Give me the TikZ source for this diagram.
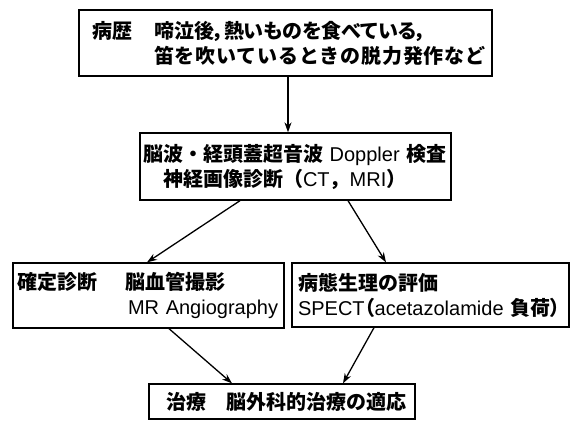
\documentclass[tikz,border=0pt]{standalone}
\usepackage{fontspec}
\setmainfont{Liberation Sans}
\newfontfamily\ja{Noto Sans CJK JP}
\newfontfamily\jap{Noto Sans CJK JP}[RawFeature=+palt]
\usetikzlibrary{arrows.meta}
\begin{document}
\begin{tikzpicture}[x=1pt,y=-1pt,
  box/.style={draw,line width=1.3pt,inner ysep=0pt,align=left,
    font=\fontsize{20}{25}\selectfont\bfseries},
  conn/.style={line width=1.3pt,-{Stealth[length=10pt,width=7pt]}}]
\useasboundingbox (0,0) rectangle (570,421);
\node[box,inner xsep=13pt,text width=387pt,minimum height=66pt] (b1) at (285.5,43)
 {\makebox[62pt][l]{\ja 病歴}{\jap 啼泣後，熱いものを食べている，}\\
  \hspace*{62pt}{\ja\addfontfeature{LetterSpace=4}笛を吹いているときの脱力発作など}};
\node[box,inner xsep=3pt,text width=305pt,minimum height=67pt] (b2) at (295.5,166.5)
 {{\ja 脳波・経頭蓋超音波} {\mdseries Doppler} {\ja 検査}\\
  \hspace*{20pt}{\ja 神経画像診断（}{\mdseries CT}{\ja ，}{\mdseries MRI}{\ja ）}};
\node[box,inner xsep=4pt,text width=263pt,minimum height=65pt] (b3) at (148.5,295.5)
 {{\ja 確定診断}\hspace{28pt}{\ja 脳血管撮影}\\
  \hspace*{111pt}{\mdseries MR Angiography}};
\node[box,inner xsep=6pt,text width=265pt,minimum height=64pt] (b4) at (430.5,295)
 {{\ja 病態生理の評価}\\
  {\mdseries SPECT}{\jap （}{\mdseries acetazolamide} {\ja 負荷}{\jap ）}};
\node[box,inner xsep=17pt,text width=232pt,minimum height=35pt] (b5) at (282,401.5)
 {{\ja 治療　脳外科的治療の適応}};
\draw[conn] ([xshift=2.5pt]b1.south) -- ([xshift=2.5pt]b1.south |- b2.north);
\draw[conn] ([xshift=-55.5pt]b2.south) -- ([xshift=-1.5pt]b3.north);
\draw[conn] ([xshift=52.5pt]b2.south) -- ([xshift=-44.5pt]b4.north);
\draw[conn] ([xshift=20.5pt]b3.south) -- ([xshift=-50pt]b5.north);
\draw[conn] ([xshift=-56.5pt]b4.south) -- ([xshift=61pt]b5.north);
\end{tikzpicture}
\end{document}
